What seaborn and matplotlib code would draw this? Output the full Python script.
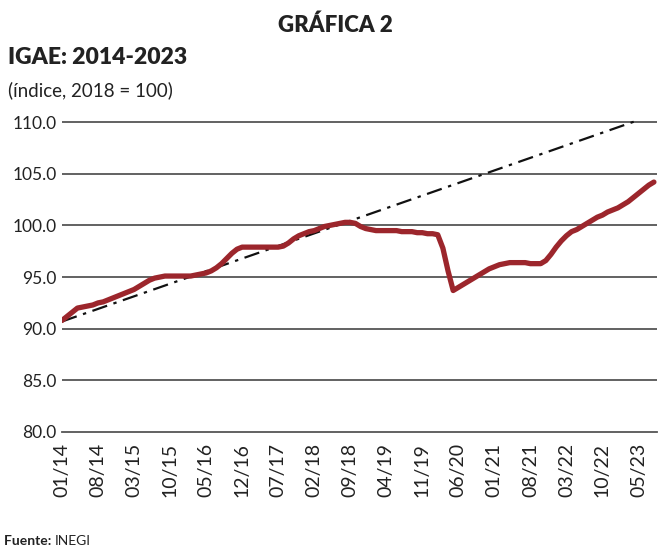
import matplotlib
matplotlib.use("Agg")
import matplotlib.pyplot as plt
import seaborn as sns
import pandas as pd
import numpy as np

# ---- data (IGAE, índice 2018 = 100), monthly 01/2014 - 08/2023 ----
igae_2014 = [90.8, 91.2, 91.6, 92.0, 92.1, 92.2, 92.3, 92.5, 92.6, 92.8, 93.0, 93.2]
igae_2015 = [93.4, 93.6, 93.8, 94.1, 94.4, 94.7, 94.9, 95.0, 95.1, 95.1, 95.1, 95.1]
igae_2016 = [95.1, 95.1, 95.2, 95.3, 95.4, 95.6, 95.9, 96.3, 96.8, 97.3, 97.7, 97.9]
igae_2017 = [97.9, 97.9, 97.9, 97.9, 97.9, 97.9, 97.9, 98.0, 98.3, 98.7, 99.0, 99.2]
igae_2018 = [99.4, 99.5, 99.7, 99.9, 100.0, 100.1, 100.2, 100.3, 100.3, 100.2, 99.9, 99.7]
igae_2019 = [99.6, 99.5, 99.5, 99.5, 99.5, 99.5, 99.4, 99.4, 99.4, 99.3, 99.3, 99.2]
igae_2020 = [99.2, 99.1, 97.8, 95.6, 93.7, 94.0, 94.3, 94.6, 94.9, 95.2, 95.5, 95.8]
igae_2021 = [96.0, 96.2, 96.3, 96.4, 96.4, 96.4, 96.4, 96.3, 96.3, 96.3, 96.6, 97.2]
igae_2022 = [97.9, 98.5, 99.0, 99.4, 99.6, 99.9, 100.2, 100.5, 100.8, 101.0, 101.3, 101.5]
igae_2023 = [101.7, 102.0, 102.3, 102.7, 103.1, 103.5, 103.9, 104.2]

trend_dates = ["2014-01", "2023-05"]
trend_values = [90.7, 110.2]

tick_labels = ["01/14", "08/14", "03/15", "10/15", "05/16", "12/16", "07/17", "02/18",
               "09/18", "04/19", "11/19", "06/20", "01/21", "08/21", "03/22", "10/22", "05/23"]

values = (igae_2014 + igae_2015 + igae_2016 + igae_2017 + igae_2018 + igae_2019 +
          igae_2020 + igae_2021 + igae_2022 + igae_2023)
dates = pd.date_range("2014-01-01", periods=len(values), freq="MS")
start = pd.Timestamp("2014-01-01")

def month_index(d):
    d = pd.Timestamp(d)
    return (d.year - start.year) * 12 + (d.month - start.month)

df = pd.DataFrame({"m": [month_index(d) for d in dates], "igae": values})
trend = pd.DataFrame({"m": [month_index(d) for d in trend_dates], "v": trend_values})
tick_pos = [month_index(pd.Timestamp("20" + t.split("/")[1] + "-" + t.split("/")[0] + "-01"))
            for t in tick_labels]

sns.set_theme(style="white")
plt.rcParams["font.family"] = ["Lato", "DejaVu Sans"]

fig = plt.figure(figsize=(6.62, 5.52), dpi=100)
fig.patch.set_facecolor("white")
ax = fig.add_axes([62 / 662, 1 - 432 / 552, (657 - 62) / 662, (432 - 117) / 552])

for yv in [85, 90, 95, 100, 105, 110]:
    ax.axhline(yv, color="#555555", lw=1.3, zorder=1)

sns.lineplot(data=trend, x="m", y="v", ax=ax, color="#111111", lw=1.6,
             linestyle=(0, (7, 3, 1.5, 3)), zorder=2)
sns.lineplot(data=df, x="m", y="igae", ax=ax, color="#9c262c", lw=3.8, zorder=3)

ax.set_xlim(0, 115.6)
ax.set_ylim(80, 110.5)
ax.set_yticks([80, 85, 90, 95, 100, 105, 110])
ax.set_yticklabels([f"{v:.1f}" for v in [80, 85, 90, 95, 100, 105, 110]],
                   fontsize=12.5, color="#222222")
ax.set_xticks(tick_pos)
ax.set_xticklabels(tick_labels, rotation=90, fontsize=14, color="#222222")
ax.tick_params(axis="x", direction="out", length=6, width=1.2, color="#555555", pad=2)
ax.tick_params(axis="y", length=0, pad=4)
ax.set_xlabel("")
ax.set_ylabel("")
for s in ["top", "right", "left"]:
    ax.spines[s].set_visible(False)
ax.spines["bottom"].set_color("#555555")
ax.spines["bottom"].set_linewidth(1.3)
ax.set_facecolor("white")

fig.text(335 / 662, 1 - 25 / 552, "GRÁFICA 2", ha="center", va="center",
         fontsize=16, fontweight="heavy", color="#222222")
fig.text(8 / 662, 1 - 58 / 552, "IGAE: 2014-2023", ha="left", va="center",
         fontsize=16.5, fontweight="heavy", color="#222222")
fig.text(8 / 662, 1 - 90 / 552, "(índice, 2018 = 100)", ha="left", va="center",
         fontsize=13.5, color="#222222")
t1 = fig.text(4 / 662, 1 - 541 / 552, "Fuente: ", ha="left", va="center",
              fontsize=10, fontweight="bold", color="#222222")
fig.canvas.draw()
bb = t1.get_window_extent()
fig.text(bb.x1 / fig.bbox.width, 1 - 541 / 552, "INEGI", ha="left", va="center",
         fontsize=10, color="#222222")

fig.savefig("out.png", dpi=100, facecolor="white")
